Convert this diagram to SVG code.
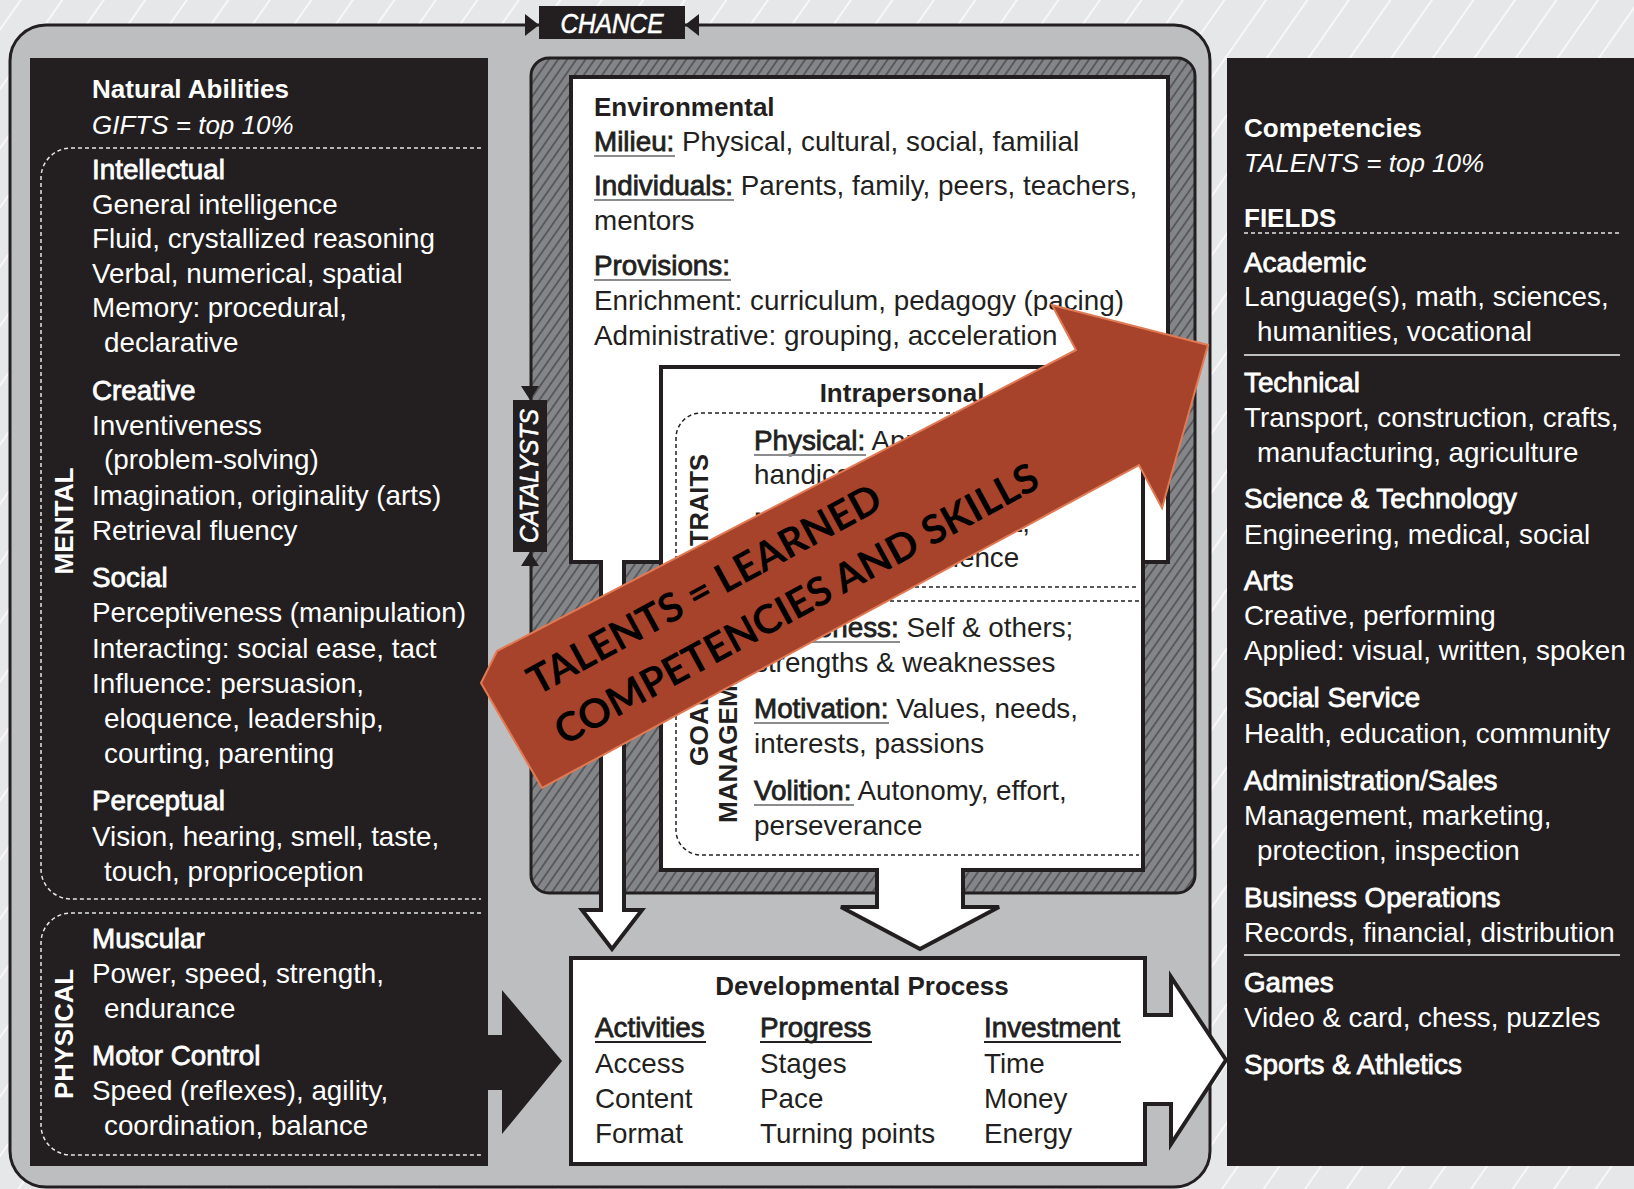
<svg xmlns="http://www.w3.org/2000/svg" width="1634" height="1189" viewBox="0 0 1634 1189">
  <defs>
    <pattern id="bgStripe" width="34" height="34" patternUnits="userSpaceOnUse" patternTransform="rotate(35)">
      <rect width="34" height="34" fill="#e6e7e8"/>
      <line x1="17" y1="0" x2="17" y2="34" stroke="#ffffff" stroke-width="1.6" opacity="0.85"/>
    </pattern>
    <pattern id="hatch" width="7.5" height="7.5" patternUnits="userSpaceOnUse" patternTransform="rotate(35)">
      <rect width="7.5" height="7.5" fill="#838588"/>
      <line x1="3.75" y1="0" x2="3.75" y2="7.5" stroke="#3f3e40" stroke-width="1.2"/>
    </pattern>
    <style>
      text { font-family: "Liberation Sans", Arial, sans-serif; }
      .t { font-size: 27.8px; }
      .m { font-size: 27.8px; stroke-width: 0.8px; }
      .b { font-size: 26px; font-weight: 700; }
      .i { font-size: 26px; font-style: italic; }
      .wt { fill: #ffffff; }
      .wt.m { stroke: #ffffff; }
      .dk { fill: #231f20; }
      .dk.m { stroke: #231f20; }
      .vlab { font-size: 26px; font-weight: 700; text-anchor: middle; }
      .tag { fill: #ffffff; stroke: #ffffff; stroke-width: 0.6px; font-style: italic; text-anchor: middle; }
      .panel { fill: #231f20; }
      .box { fill: #ffffff; stroke: #231f20; stroke-width: 4; stroke-linejoin: miter; }
      .dash { fill: none; stroke-dasharray: 4 3; stroke-width: 1.5; }
      .ul { stroke: #8a8c8e; stroke-width: 2; }
      .ulk { stroke: #231f20; stroke-width: 2; }
      .rule { stroke: #bcbec0; stroke-width: 2; }
      .banner { font-family: Lato, "Liberation Sans", sans-serif; font-weight: 700; font-size: 40px; fill: #000000; }
    </style>
  </defs>

  <!-- striped backdrop -->
  <rect width="1634" height="1189" fill="url(#bgStripe)"/>

  <!-- outer gray frame -->
  <rect x="10" y="25" width="1200" height="1162" rx="36" fill="#bcbec0" stroke="#231f20" stroke-width="3"/>

  <!-- CHANCE tag on the outer frame -->
  <g id="chance">
    <rect x="539" y="6" width="146" height="33" fill="#231f20"/>
    <text class="tag" x="612" y="33" font-size="27" textLength="103" lengthAdjust="spacingAndGlyphs">CHANCE</text>
  </g>

  <!-- left panel: natural abilities -->
  <g id="natural-abilities">
    <rect class="panel" x="30" y="58" width="458" height="1108"/>
    <path class="dash" stroke="#e6e6e6" d="M481,148 H71 A30,30 0 0 0 41,178 V869 A30,30 0 0 0 71,899 H481"/>
    <path class="dash" stroke="#e6e6e6" d="M481,913 H71 A30,30 0 0 0 41,943 V1125 A30,30 0 0 0 71,1155 H481"/>
    <text class="b wt" x="92" y="98" font-size="27">Natural Abilities</text>
    <text class="i wt" x="92" y="134">GIFTS = top 10%</text>
    <text class="m wt" x="92" y="179">Intellectual</text>
    <text class="t wt" x="92" y="214">General intelligence</text>
    <text class="t wt" x="92" y="248">Fluid, crystallized reasoning</text>
    <text class="t wt" x="92" y="283">Verbal, numerical, spatial</text>
    <text class="t wt" x="92" y="317">Memory: procedural,</text>
    <text class="t wt" x="104" y="352">declarative</text>
    <text class="m wt" x="92" y="400">Creative</text>
    <text class="t wt" x="92" y="435">Inventiveness</text>
    <text class="t wt" x="104" y="469">(problem-solving)</text>
    <text class="t wt" x="92" y="505">Imagination, originality (arts)</text>
    <text class="t wt" x="92" y="540">Retrieval fluency</text>
    <text class="m wt" x="92" y="587">Social</text>
    <text class="t wt" x="92" y="622">Perceptiveness (manipulation)</text>
    <text class="t wt" x="92" y="658">Interacting: social ease, tact</text>
    <text class="t wt" x="92" y="693">Influence: persuasion,</text>
    <text class="t wt" x="104" y="728">eloquence, leadership,</text>
    <text class="t wt" x="104" y="763">courting, parenting</text>
    <text class="m wt" x="92" y="810">Perceptual</text>
    <text class="t wt" x="92" y="846">Vision, hearing, smell, taste,</text>
    <text class="t wt" x="104" y="881">touch, proprioception</text>
    <text class="m wt" x="92" y="948">Muscular</text>
    <text class="t wt" x="92" y="983">Power, speed, strength,</text>
    <text class="t wt" x="104" y="1018">endurance</text>
    <text class="m wt" x="92" y="1065">Motor Control</text>
    <text class="t wt" x="92" y="1100">Speed (reflexes), agility,</text>
    <text class="t wt" x="104" y="1135">coordination, balance</text>
    <text class="vlab wt" transform="translate(73,521) rotate(-90)" textLength="107" lengthAdjust="spacingAndGlyphs">MENTAL</text>
    <text class="vlab wt" transform="translate(73,1034) rotate(-90)" textLength="130" lengthAdjust="spacingAndGlyphs">PHYSICAL</text>
  </g>

  <!-- right panel: competencies -->
  <g id="competencies">
    <rect class="panel" x="1227" y="58" width="407" height="1108"/>
    <text class="b wt" x="1244" y="137" font-size="27">Competencies</text>
    <text class="i wt" x="1244" y="172">TALENTS = top 10%</text>
    <text class="b wt" x="1244" y="227" font-size="27">FIELDS</text>
    <line class="dash" stroke="#e6e6e6" x1="1244" y1="233" x2="1620" y2="233"/>
    <text class="m wt" x="1244" y="272">Academic</text>
    <text class="t wt" x="1244" y="306">Language(s), math, sciences,</text>
    <text class="t wt" x="1257" y="341">humanities, vocational</text>
    <line class="rule" x1="1244" y1="355" x2="1620" y2="355"/>
    <text class="m wt" x="1244" y="392">Technical</text>
    <text class="t wt" x="1244" y="427">Transport, construction, crafts,</text>
    <text class="t wt" x="1257" y="462">manufacturing, agriculture</text>
    <text class="m wt" x="1244" y="508">Science &amp; Technology</text>
    <text class="t wt" x="1244" y="544">Engineering, medical, social</text>
    <text class="m wt" x="1244" y="590">Arts</text>
    <text class="t wt" x="1244" y="625">Creative, performing</text>
    <text class="t wt" x="1244" y="660">Applied: visual, written, spoken</text>
    <text class="m wt" x="1244" y="707">Social Service</text>
    <text class="t wt" x="1244" y="743">Health, education, community</text>
    <text class="m wt" x="1244" y="790">Administration/Sales</text>
    <text class="t wt" x="1244" y="825">Management, marketing,</text>
    <text class="t wt" x="1257" y="860">protection, inspection</text>
    <text class="m wt" x="1244" y="907">Business Operations</text>
    <text class="t wt" x="1244" y="942">Records, financial, distribution</text>
    <line class="rule" x1="1244" y1="955" x2="1620" y2="955"/>
    <text class="m wt" x="1244" y="992">Games</text>
    <text class="t wt" x="1244" y="1027">Video &amp; card, chess, puzzles</text>
    <text class="m wt" x="1244" y="1074">Sports &amp; Athletics</text>
  </g>

  <!-- hatched catalysts frame -->
  <g id="catalysts-frame">
    <rect x="531" y="58" width="664" height="835" rx="18" fill="url(#hatch)" stroke="#231f20" stroke-width="3"/>
  </g>

  <!-- environmental catalysts, with its outlet arrow -->
  <g id="environmental">
    <path class="box" d="M571,77 H1168 V562 H624 V910 H642 L612,949 L582,910 H601 V562 H571 Z"/>
    <text class="b dk" x="594" y="116">Environmental</text>
    <text class="t dk" x="594" y="151"><tspan class="m dk">Milieu:</tspan> Physical, cultural, social, familial</text>
    <line class="ul" x1="594" y1="156" x2="675" y2="156"/>
    <text class="t dk" x="594" y="195"><tspan class="m dk">Individuals:</tspan> Parents, family, peers, teachers,</text>
    <line class="ul" x1="594" y1="200" x2="734" y2="200"/>
    <text class="t dk" x="594" y="230">mentors</text>
    <text class="m dk" x="594" y="275">Provisions:</text>
    <line class="ul" x1="594" y1="280" x2="731" y2="280"/>
    <text class="t dk" x="594" y="310">Enrichment: curriculum, pedagogy (pacing)</text>
    <text class="t dk" x="594" y="345">Administrative: grouping, acceleration</text>
  </g>

  <!-- intrapersonal catalysts, with its outlet arrow -->
  <g id="intrapersonal">
    <path class="box" d="M661,367 H1143 V870 H963 V907 H999 L920,949 L841,907 H877 V870 H661 Z"/>
    <text class="b dk" x="902" y="402" text-anchor="middle">Intrapersonal</text>
    <path class="dash" stroke="#231f20" d="M1139,413 H701 A25,25 0 0 0 676,438 V562 A25,25 0 0 0 701,587 H1139"/>
    <path class="dash" stroke="#231f20" d="M1139,601 H701 A25,25 0 0 0 676,626 V830 A25,25 0 0 0 701,855 H1139"/>
    <text class="vlab dk" transform="translate(708,500) rotate(-90)" textLength="92" lengthAdjust="spacingAndGlyphs">TRAITS</text>
    <text class="vlab dk" transform="translate(708,728) rotate(-90)" textLength="76" lengthAdjust="spacingAndGlyphs">GOAL</text>
    <text class="vlab dk" transform="translate(737,728) rotate(-90)" textLength="190" lengthAdjust="spacingAndGlyphs">MANAGEMENT</text>
    <text class="t dk" x="754" y="450"><tspan class="m dk">Physical:</tspan> Appearance,</text>
    <line class="ul" x1="754" y1="455" x2="866" y2="455"/>
    <text class="t dk" x="754" y="484">handicaps, health</text>
    <text class="t dk" x="754" y="532"><tspan class="m dk">Mental:</tspan> Temperament,</text>
    <line class="ul" x1="754" y1="537" x2="846" y2="537"/>
    <text class="t dk" x="754" y="567">personality, resilience</text>
    <text class="t dk" x="754" y="637"><tspan class="m dk">Awareness:</tspan> Self &amp; others;</text>
    <line class="ul" x1="754" y1="642" x2="900" y2="642"/>
    <text class="t dk" x="754" y="672">strengths &amp; weaknesses</text>
    <text class="t dk" x="754" y="718"><tspan class="m dk">Motivation:</tspan> Values, needs,</text>
    <line class="ul" x1="754" y1="723" x2="889" y2="723"/>
    <text class="t dk" x="754" y="753">interests, passions</text>
    <text class="t dk" x="754" y="800"><tspan class="m dk">Volition:</tspan> Autonomy, effort,</text>
    <line class="ul" x1="754" y1="805" x2="854" y2="805"/>
    <text class="t dk" x="754" y="835">perseverance</text>
  </g>

  <!-- CATALYSTS tag on the frame edge -->
  <g id="catalysts-label">
    <rect x="513" y="400" width="34" height="152" fill="#231f20"/>
    <text class="tag" transform="translate(538,476) rotate(-90)" font-size="25" textLength="134" lengthAdjust="spacingAndGlyphs">CATALYSTS</text>
  </g>

  <!-- developmental process, with its outlet arrow -->
  <g id="developmental-process">
    <path class="box" d="M571,958 H1145 V1015 H1171 V977 L1226,1060 L1171,1144 V1104 H1145 V1164 H571 Z"/>
    <text class="b dk" x="862" y="995" font-size="26.5" text-anchor="middle">Developmental Process</text>
    <text class="m dk" x="595" y="1037">Activities</text>
    <line class="ulk" x1="595" y1="1042" x2="706" y2="1042"/>
    <text class="m dk" x="760" y="1037">Progress</text>
    <line class="ulk" x1="760" y1="1042" x2="872" y2="1042"/>
    <text class="m dk" x="984" y="1037">Investment</text>
    <line class="ulk" x1="984" y1="1042" x2="1121" y2="1042"/>
    <text class="t dk" x="595" y="1073">Access</text>
    <text class="t dk" x="595" y="1108">Content</text>
    <text class="t dk" x="595" y="1143">Format</text>
    <text class="t dk" x="760" y="1073">Stages</text>
    <text class="t dk" x="760" y="1108">Pace</text>
    <text class="t dk" x="760" y="1143">Turning points</text>
    <text class="t dk" x="984" y="1073">Time</text>
    <text class="t dk" x="984" y="1108">Money</text>
    <text class="t dk" x="984" y="1143">Energy</text>
  </g>

  <!-- connectors -->
  <g id="connectors">
    <!-- chance arrowheads on the outer frame -->
    <polygon points="525,14 539,25 525,36" fill="#231f20"/>
    <polygon points="699,14 685,25 699,36" fill="#231f20"/>
    <!-- catalysts arrowheads on the frame edge -->
    <polygon points="521,386 539,386 530,400" fill="#231f20"/>
    <polygon points="521,566 539,566 530,552" fill="#231f20"/>
    <!-- natural abilities into the developmental process -->
    <path d="M486,1035 H502 V990 L562,1061 L502,1134 V1090 H486 Z" fill="#231f20"/>
    <!-- talents banner arrow with a pointed tail -->
    <polygon points="497,651 1076,350 1052,305 1208,345 1162,508 1139,465 542,788 481,683" fill="#a8432b" stroke="#e07a55" stroke-width="2" stroke-linejoin="miter"/>
    <text class="banner" transform="translate(537,696) rotate(-28.5)" textLength="396" lengthAdjust="spacingAndGlyphs">TALENTS = LEARNED</text>
    <text class="banner" transform="translate(564,746) rotate(-28.5)" textLength="544" lengthAdjust="spacingAndGlyphs">COMPETENCIES AND SKILLS</text>
  </g>
</svg>
